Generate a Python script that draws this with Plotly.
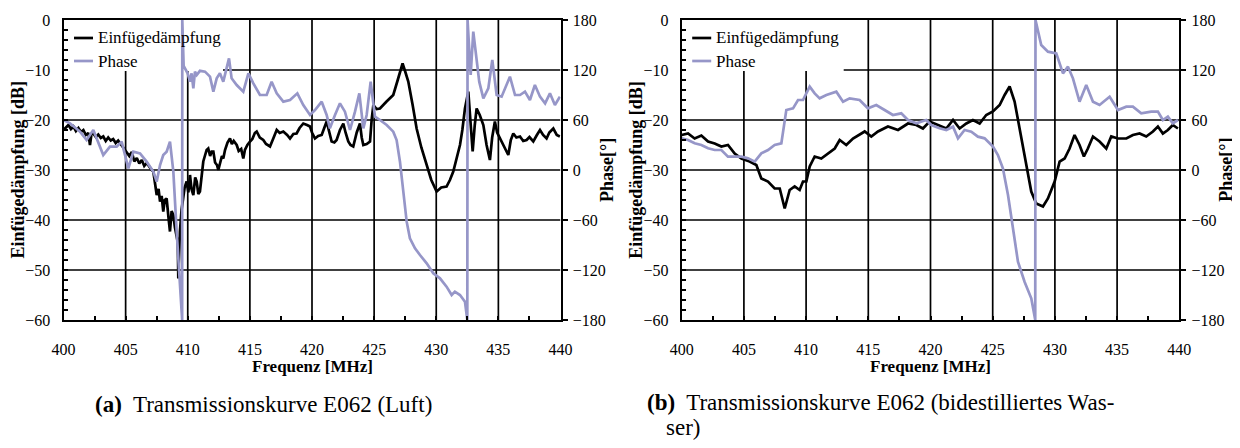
import plotly.graph_objects as go

# ---------------- data ----------------
# (a) Luft
freq_a_loss = [400.0, 400.2, 400.4, 400.6, 400.8, 401.0, 401.2, 401.4, 401.6, 401.8, 402.0, 402.13, 402.25, 402.4,
               402.6, 402.8, 403.0, 403.2, 403.4, 403.6, 403.8, 404.0, 404.2, 404.4, 404.6, 404.8, 405.0, 405.1,
               405.3, 405.5, 405.7, 405.9, 406.1, 406.3, 406.5, 406.7, 406.9, 407.1, 407.23, 407.4, 407.5, 407.65,
               407.77, 407.9, 408.03, 408.15, 408.3, 408.45, 408.57, 408.7, 408.84, 408.97, 409.11, 409.2, 409.24,
               409.3, 409.37, 409.5, 409.64, 409.75, 409.91, 410.05, 410.18, 410.3, 410.45, 410.6, 410.72, 410.85,
               410.98, 411.1, 411.25, 411.4, 411.52, 411.65, 411.8, 411.93, 412.06, 412.2, 412.35, 412.46, 412.6,
               412.75, 412.86, 413.0, 413.2, 413.4, 413.55, 413.7, 413.94, 414.1, 414.3, 414.47, 414.6, 414.8,
               415.01, 415.2, 415.4, 415.55, 415.8, 416.08, 416.3, 416.62, 416.9, 417.16, 417.4, 417.69, 418.0,
               418.23, 418.5, 418.76, 419.0, 419.3, 419.6, 419.84, 420.0, 420.24, 420.5, 420.78, 421.0, 421.18,
               421.4, 421.58, 421.8, 421.98, 422.25, 422.52, 422.7, 422.92, 423.1, 423.32, 423.6, 423.86, 424.0,
               424.13, 424.4, 424.67, 424.8, 424.94, 425.2, 425.47, 426.0, 426.54, 426.9, 427.29, 427.5, 427.75,
               428.1, 428.42, 428.8, 429.23, 429.6, 430.03, 430.4, 430.83, 431.1, 431.37, 431.6, 431.91, 432.1,
               432.31, 432.58, 432.75, 432.93, 433.1, 433.25, 433.5, 433.79, 434.05, 434.32, 434.5, 434.72, 434.9,
               435.13, 435.4, 435.6, 435.8, 436.0, 436.2, 436.45, 436.74, 437.0, 437.27, 437.5, 437.81, 438.1,
               438.35, 438.6, 438.88, 439.1, 439.42, 439.7, 439.95]
loss_a = [-22.0, -21.5, -21.0, -21.8, -21.3, -22.2, -21.6, -22.4, -22.0, -23.0, -22.6, -25.0, -22.8, -22.7,
          -23.4, -22.9, -23.6, -23.3, -24.2, -23.5, -24.1, -23.8, -24.6, -24.1, -24.8, -25.5, -26.0, -26.3,
          -27.2, -26.4, -28.3, -27.6, -28.7, -28.0, -29.2, -28.6, -29.4, -30.0, -30.3, -33.0, -35.0, -33.8,
          -36.3, -35.2, -38.3, -36.0, -35.7, -39.5, -42.3, -38.2, -39.0, -41.5, -43.0, -44.5, -51.7,
          -47.0, -42.3, -38.0, -35.0, -33.5, -32.3, -34.5, -31.0, -33.8, -35.0, -31.5, -32.3, -34.8,
          -34.3, -31.0, -28.3, -27.0, -26.0, -25.7, -27.2, -26.3, -26.3, -28.5, -29.0, -30.0, -28.8,
          -27.2, -27.7, -26.0, -24.5, -23.7, -24.8, -24.2, -25.0, -26.2, -25.8, -27.7, -26.0, -25.0,
          -24.3, -23.8, -22.6, -22.3, -23.5, -24.0, -24.8, -25.3, -23.6, -22.0, -22.6, -22.3, -23.0,
          -23.7, -22.8, -22.7, -21.6, -20.7, -21.0, -21.3, -22.5, -23.7, -23.2, -23.0, -21.5, -20.3,
          -22.5, -24.3, -24.5, -24.0, -22.0, -20.7, -22.5, -24.3, -25.0, -25.3, -22.5, -20.7, -23.5,
          -25.0, -24.8, -24.3, -20.0, -17.0, -17.8, -17.7, -16.3, -15.0, -12.0, -8.7, -10.3, -12.3,
          -17.0, -21.7, -25.5, -29.0, -32.0, -34.3, -33.5, -33.3, -32.0, -30.3, -28.0, -25.0, -22.0,
          -17.7, -14.3, -20.0, -26.3, -21.0, -17.7, -19.0, -21.0, -25.0, -28.0, -23.5, -20.3, -22.5,
          -23.7, -25.0, -26.0, -27.0, -24.0, -22.7, -23.5, -23.3, -24.2, -24.0, -23.4, -24.3, -23.0,
          -22.0, -23.0, -23.7, -22.5, -21.7, -23.0, -23.3]

freq_a_phase = [400.0, 400.52, 401.33, 401.86, 402.4, 402.94, 403.2, 403.74, 404.28, 404.68, 405.08, 405.22,
                405.62, 406.16, 406.69, 407.23, 407.5, 407.77, 408.03, 408.3, 408.57, 408.84, 409.11, 409.37,
                409.55, 409.56, 409.67, 409.99, 410.18, 410.31, 410.45, 410.58, 410.72, 410.98, 411.39, 411.79,
                412.06, 412.33, 412.59, 412.86, 413.13, 413.32, 413.53, 413.94, 414.47, 414.88, 415.28, 415.81,
                416.35, 416.75, 417.16, 417.69, 418.23, 418.82, 419.3, 419.84, 420.24, 420.78, 421.18, 421.44,
                421.85, 422.25, 422.65, 423.06, 423.46, 423.81, 424.13, 424.4, 424.72, 425.07, 425.47, 426.01,
                426.54, 426.81, 427.08, 427.35, 427.62, 427.88, 428.29, 428.69, 429.23, 429.76, 430.3, 430.83,
                431.24, 431.5, 431.91, 432.31, 432.5, 432.52, 432.77, 432.98, 433.2, 433.46, 433.79, 434.19,
                434.51, 434.86, 435.26, 435.93, 436.34, 436.74, 437.14, 437.54, 437.94, 438.35, 438.76, 439.15,
                439.55, 439.95]
phase_a = [60, 56, 46, 36, 48, 28, 18, 28, 28, 34, 10, 2,
           22, 20, 10, -2, -14, 6, 18, 22, 34, -2, -74, -146,
           -180, 180, 125, 116, 106, 116, 98, 118, 114, 119, 118, 112,
           94, 110, 116, 106, 124, 134, 110, 102, 94, 116, 104, 90,
           90, 106, 92, 82, 84, 92, 78, 66, 72, 82, 66, 50,
           66, 80, 70, 48, 70, 92, 50, 66, 106, 64, 60, 54,
           46, 36, 10, -30, -62, -82, -94, -102, -112, -124, -130, -140,
           -150, -146, -150, -158, -180, 180, 114, 166, 138, 106, 86, 98,
           132, 90, 88, 112, 90, 90, 94, 84, 102, 88, 80, 92,
           78, 88]

# (b) bidestilliertes Wasser
freq_b_loss = [400.0, 400.51, 401.04, 401.58, 402.12, 402.65, 403.19, 403.72, 404.26, 404.8, 405.46, 406.0,
               406.4, 406.94, 407.47, 407.88, 408.28, 408.68, 409.08, 409.48, 409.75, 410.02, 410.29, 410.69,
               411.22, 411.76, 412.3, 412.7, 413.23, 413.77, 414.3, 414.71, 415.24, 415.78, 416.58, 417.39,
               418.19, 418.86, 419.39, 419.93, 420.6, 421.27, 421.81, 422.34, 422.88, 423.41, 423.95, 424.48,
               425.02, 425.56, 425.96, 426.36, 426.76, 427.16, 427.7, 428.1, 428.5, 429.04, 429.44, 429.98,
               430.38, 430.78, 431.18, 431.58, 431.98, 432.33, 432.65, 433.06, 433.59, 434.13, 434.53, 435.07,
               435.74, 436.27, 436.81, 437.34, 437.88, 438.28, 438.68, 439.08, 439.48, 439.89]
loss_b = [-23.0, -22.7, -23.7, -23.1, -24.3, -24.7, -25.3, -25.0, -26.7, -27.7, -28.3, -29.0,
          -31.7, -32.3, -33.7, -33.7, -37.7, -34.0, -33.3, -34.0, -32.3, -32.3, -29.3, -27.3,
          -27.7, -26.7, -25.7, -24.0, -25.0, -23.7, -23.0, -22.3, -23.3, -22.3, -21.3, -22.0,
          -20.7, -21.0, -21.7, -20.3, -21.0, -21.7, -20.0, -21.7, -20.7, -20.0, -20.7, -19.0,
          -18.3, -17.0, -15.0, -13.3, -16.3, -21.7, -29.0, -34.3, -36.7, -37.3, -35.7, -32.3,
          -28.3, -27.7, -25.7, -23.0, -25.0, -27.3, -25.7, -23.3, -24.3, -25.7, -23.3, -23.7,
          -23.7, -23.0, -22.7, -23.3, -22.3, -21.3, -22.7, -22.0, -21.0, -21.7]

freq_b_phase = [400.0, 400.51, 401.04, 401.58, 402.12, 402.65, 403.19, 403.72, 404.26, 404.8, 405.33, 405.87,
                406.4, 406.94, 407.47, 408.01, 408.41, 408.95, 409.35, 409.75, 410.29, 410.69, 411.09, 411.63,
                412.43, 412.97, 413.5, 414.3, 414.97, 415.64, 416.31, 416.98, 417.65, 418.19, 418.86, 419.66,
                420.06, 420.73, 421.27, 421.81, 422.21, 422.74, 423.28, 423.81, 424.35, 425.02, 425.42, 425.82,
                426.23, 426.63, 427.03, 427.56, 428.1, 428.42, 428.44, 428.9, 429.44, 430.11, 430.65, 431.05,
                431.45, 431.98, 432.52, 433.06, 433.59, 434.4, 435.07, 435.74, 436.27, 436.94, 437.74, 438.28,
                438.68, 439.08, 439.48, 439.89]
phase_b = [38, 36, 32, 30, 26, 24, 24, 16, 16, 16, 14, 10,
           20, 24, 30, 32, 72, 74, 84, 84, 100, 92, 86, 90,
           94, 82, 86, 84, 74, 78, 72, 66, 68, 60, 56, 60,
           54, 50, 48, 52, 38, 48, 46, 40, 38, 28, 18, 2,
           -30, -70, -110, -134, -154, -180, 180, 150, 142, 140, 116, 124,
           110, 82, 102, 82, 78, 88, 72, 76, 76, 68, 70, 70,
           60, 64, 56, 60]

series_names = ["Einfügedämpfung", "Phase"]
x_ticks = [400, 405, 410, 415, 420, 425, 430, 435, 440]
y_ticks = [0, -10, -20, -30, -40, -50, -60]
phase_ticks = [180, 120, 60, 0, -60, -120, -180]
captions = ["<b>(a)</b>  Transmissionskurve E062 (Luft)",
            "<b>(b)</b>  Transmissionskurve E062 (bidestilliertes Was-",
            "ser)"]

# ---------------- styling ----------------
# The page body keeps its default 8 px margin (top/left), so the figure starts
# 8 px into the window; all layout positions below are given in window pixels.
OFF = 8
W, H = 1240 - OFF, 448 - 2 * OFF
FONT = "Liberation Serif"
BLACK = "#000000"
BLUE = "#9696c8"
LW = 2.7


def px(x):
    return (x - OFF) / W


def py(y):
    return 1 - (y - OFF) / H


fig = go.Figure()
fig.add_trace(go.Scatter(x=freq_a_loss, y=loss_a, xaxis="x", yaxis="y", mode="lines",
                         line=dict(color=BLACK, width=LW), name=series_names[0], showlegend=False))
fig.add_trace(go.Scatter(x=freq_a_phase, y=phase_a, xaxis="x", yaxis="y2", mode="lines",
                         line=dict(color=BLUE, width=LW), name=series_names[1], showlegend=False))
fig.add_trace(go.Scatter(x=freq_b_loss, y=loss_b, xaxis="x2", yaxis="y3", mode="lines",
                         line=dict(color=BLACK, width=LW), name=series_names[0], showlegend=False))
fig.add_trace(go.Scatter(x=freq_b_phase, y=phase_b, xaxis="x2", yaxis="y4", mode="lines",
                         line=dict(color=BLUE, width=LW), name=series_names[1], showlegend=False))

tickfont = dict(family=FONT, size=16, color=BLACK)
ydom = [py(320), py(20)]


def xax(domain, anchor):
    return dict(domain=domain, anchor=anchor, range=[400, 440], tickvals=x_ticks,
                showgrid=False, zeroline=False, automargin=False,
                showline=True, linecolor=BLACK, linewidth=2, mirror=True,
                ticks="inside", ticklen=4, tickcolor=BLACK, tickwidth=1.5,
                minor=dict(dtick=2.5, tick0=400, ticks="inside", ticklen=4, tickcolor=BLACK, tickwidth=1.5,
                           showgrid=False),
                tickfont=tickfont, ticklabelstandoff=14)


def yl(anchor):
    return dict(domain=ydom, anchor=anchor, range=[-60, 0], tickvals=y_ticks,
                showgrid=False, zeroline=False, automargin=False,
                showline=True, linecolor=BLACK, linewidth=2,
                ticks="inside", ticklen=4, tickcolor=BLACK, tickwidth=1.5,
                minor=dict(dtick=2, tick0=0, ticks="inside", ticklen=4, tickcolor=BLACK, tickwidth=1.5,
                           showgrid=False),
                tickfont=tickfont, ticklabelstandoff=8)


def yr(anchor, over):
    return dict(overlaying=over, side="right", anchor=anchor, range=[-180, 180], tickvals=phase_ticks,
                showgrid=False, zeroline=False, automargin=False,
                showline=True, linecolor=BLACK, linewidth=2,
                ticks="outside", ticklen=5, tickcolor=BLACK, tickwidth=1.5,
                tickfont=tickfont, ticklabelstandoff=2)


fig.update_layout(
    width=W, height=H, margin=dict(l=0, r=0, t=0, b=0, pad=0, autoexpand=False),
    paper_bgcolor="white", plot_bgcolor="white", showlegend=False,
    xaxis=xax([px(63.5), px(560.5)], "y"),
    yaxis=yl("x"),
    yaxis2=yr("x", "y"),
    xaxis2=xax([px(681.7), px(1179.3)], "y3"),
    yaxis3=yl("x2"),
    yaxis4=yr("x2", "y3"),
)

shapes = []
annotations = []
titlefont = dict(family=FONT, size=17, color=BLACK)
ytitlefont = dict(family=FONT, size=18, color=BLACK)
GRID = dict(color=BLACK, width=1.7)
panels = [("x", "y", 63.5, 560.5, 223.0), ("x2", "y3", 681.7, 1179.3, 843.7)]
for xr, yr_, left, right, legright in panels:
    scale = (right - left) / 40.0
    leg_f = 400 + (legright - left) / scale        # legend box right edge (MHz)
    leg_db = -(71 - 20) / 5.0                       # legend box bottom edge (dB)
    # grid lines drawn as shapes below the traces, interrupted by the legend box
    for f in x_ticks[1:-1]:
        top = leg_db if f < leg_f else 0
        shapes.append(dict(type="line", xref=xr, yref=yr_, x0=f, x1=f, y0=-60, y1=top,
                           line=GRID, layer="below"))
    for d in y_ticks[1:-1]:
        x0 = leg_f if d > leg_db else 400
        shapes.append(dict(type="line", xref=xr, yref=yr_, x0=x0, x1=440, y0=d, y1=d,
                           line=GRID, layer="below"))
    # legend
    for i, (col, yy) in enumerate([(BLACK, 38), (BLUE, 61)]):
        shapes.append(dict(type="line", xref="paper", yref="paper",
                           x0=px(left + 10.5), x1=px(left + 29.5), y0=py(yy), y1=py(yy),
                           line=dict(color=col, width=LW)))
        annotations.append(dict(text=series_names[i], xref="paper", yref="paper",
                                x=px(left + 32), y=py(yy), xanchor="left", yanchor="middle",
                                showarrow=False, font=dict(family=FONT, size=17, color=BLACK)))
    mid = (left + right) / 2
    annotations.append(dict(text="<b>Frequenz [MHz]</b>", xref="paper", yref="paper",
                            x=px(mid), y=py(366), xanchor="center", yanchor="middle",
                            showarrow=False, font=titlefont))
    annotations.append(dict(text="<b>Einfügedämpfung [dB]</b>", xref="paper", yref="paper",
                            x=px(left - 46), y=py(170), xanchor="center", yanchor="middle",
                            textangle=-90, showarrow=False, font=ytitlefont))
    annotations.append(dict(text="<b>Phase[°]</b>", xref="paper", yref="paper",
                            x=px(right + 46.5), y=py(170), xanchor="center", yanchor="middle",
                            textangle=-90, showarrow=False, font=ytitlefont))

capfont = dict(family=FONT, size=23, color=BLACK)
annotations.append(dict(text=captions[0], xref="paper", yref="paper", x=px(263.5), y=py(404),
                        xanchor="center", yanchor="middle", showarrow=False, font=capfont))
annotations.append(dict(text=captions[1], xref="paper", yref="paper", x=px(645), y=py(402),
                        xanchor="left", yanchor="middle", showarrow=False, font=capfont))
annotations.append(dict(text=captions[2], xref="paper", yref="paper", x=px(664), y=py(427),
                        xanchor="left", yanchor="middle", showarrow=False, font=capfont))

fig.update_layout(shapes=shapes, annotations=annotations)
fig.write_html("out.html", config={"displayModeBar": False})
